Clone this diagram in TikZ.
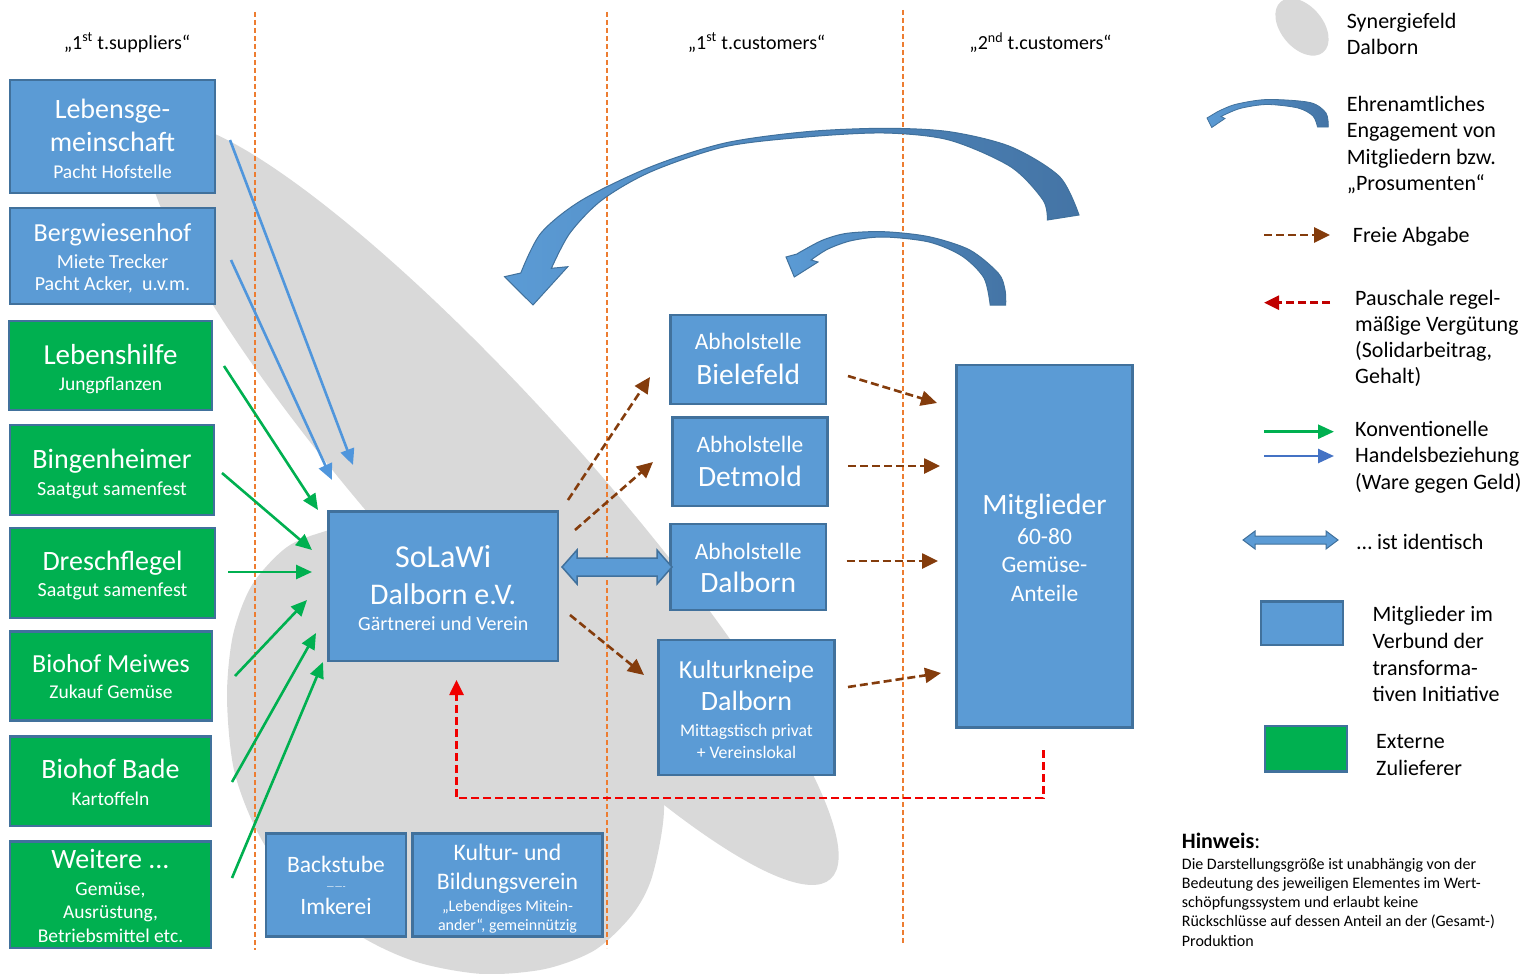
\documentclass[tikz,border=0pt]{standalone}
\usepackage{fontspec}
\setmainfont{Carlito}
\usetikzlibrary{arrows.meta}
\definecolor{boxblue}{RGB}{91,155,213}
\definecolor{boxborder}{RGB}{65,113,156}
\definecolor{boxgreen}{RGB}{0,176,80}
\definecolor{synergy}{RGB}{217,217,217}
\definecolor{guide}{RGB}{237,125,49}
\definecolor{freebrown}{RGB}{132,60,12}
\definecolor{payred}{RGB}{240,0,0}
\definecolor{legred}{RGB}{192,0,0}
\definecolor{tradeblue}{RGB}{80,150,220}
\definecolor{legblue}{RGB}{68,114,196}
\definecolor{arcdark}{RGB}{68,116,165}
\begin{document}
\begin{tikzpicture}[x=1pt,y=-1pt,
  bx/.style 2 args={draw=boxborder,line width=2.5pt,inner sep=0pt,minimum width=#1,minimum height=#2},
  wt/.style={text=white,inner sep=0pt,anchor=base},
  bt/.style={text=black,inner sep=0pt,anchor=base west},
  hd/.style={text=black,inner sep=0pt,anchor=base},
  fs/.style={font=\fontsize{#1pt}{#1pt}\selectfont},
  guideline/.style={guide,line width=1.4pt,dash pattern=on 5pt off 3pt},
  tradeg/.style={boxgreen,line width=2.6pt,-{Triangle[length=16pt,width=14pt]}},
  tradeb/.style={tradeblue,line width=2.6pt,-{Triangle[length=16pt,width=14pt]}},
  free/.style={freebrown,line width=2.6pt,dash pattern=on 8pt off 4pt,-{Triangle[length=16pt,width=15pt]}},
  pay/.style={payred,line width=2.6pt,dash pattern=on 8pt off 4pt,-{Triangle[length=15pt,width=14pt]}},
  blockarrow/.style={draw=boxborder,line width=1.5pt,fill=boxblue},
  curved/.style={draw=boxborder,line width=1pt,left color=boxblue,right color=arcdark}
]
\useasboundingbox (0,0) rectangle (1527,974);
% Synergiefeld
\fill[synergy,rotate around={-48:(492.6,503.7)}] (492.6,503.7) ellipse [x radius=505,y radius=100];
\fill[synergy] plot[smooth cycle] coordinates {(420,505) (329,530) (287,547) (252,585) (233,635) (227,697) (234,770) (258,833) (300,895) (367,940) (420,963) (483,974) (545,969) (595,950) (632,915) (652,877) (664,810) (655,740) (620,640) (540,540)};
% guide lines
\draw[guideline] (255,12) -- (255,950);
\draw[guideline] (607,12) -- (607,948);
\draw[guideline] (903,10) -- (903,945);
% headers
\node[hd,fs=20] (h1) at (127,49.3) {„1\textsuperscript{st} t.suppliers“};
\node[hd,fs=20] (h2) at (756.5,49.3) {„1\textsuperscript{st} t.customers“};
\node[hd,fs=20] (h3) at (1040.5,50) {„2\textsuperscript{nd} t.customers“};
% left column
\node[bx={205pt}{113pt},fill=boxblue] (leb) at (112.5,136.5) {};
\node[wt,fs=28] (leb1) at (112.5,118) {Lebensge-};
\node[wt,fs=28] (leb2) at (112.5,151.5) {meinschaft};
\node[wt,fs=19.5] (leb3) at (112.5,178) {Pacht Hofstelle};
\node[bx={205pt}{96pt},fill=boxblue] (berg) at (112.5,256) {};
\node[wt,fs=26] (berg1) at (112.5,241) {Bergwiesenhof};
\node[wt,fs=20] (berg2) at (112.5,268) {Miete Trecker};
\node[wt,fs=20] (berg3) at (112.5,290) {Pacht Acker,\ \ u.v.m.};
\node[bx={203pt}{89pt},fill=boxgreen] (lhilfe) at (110.5,365.5) {};
\node[wt,fs=29] (lhilfe1) at (110.5,364) {Lebenshilfe};
\node[wt,fs=19.5] (lhilfe2) at (110.5,390) {Jungpflanzen};
\node[bx={204pt}{90pt},fill=boxgreen] (bingen) at (112,470) {};
\node[wt,fs=28] (bingen1) at (112,468.3) {Bingenheimer};
\node[wt,fs=20] (bingen2) at (112,495) {Saatgut samenfest};
\node[bx={205pt}{90pt},fill=boxgreen] (dresch) at (112.5,573) {};
\node[wt,fs=28] (dresch1) at (112.5,570) {Dreschflegel};
\node[wt,fs=20] (dresch2) at (112.5,596.7) {Saatgut samenfest};
\node[bx={202pt}{89pt},fill=boxgreen] (meiwes) at (111,676) {};
\node[wt,fs=26] (meiwes1) at (111,672.7) {Biohof Meiwes};
\node[wt,fs=19.5] (meiwes2) at (111,698.3) {Zukauf Gemüse};
\node[bx={201pt}{89.5pt},fill=boxgreen] (bade) at (110.5,781.25) {};
\node[wt,fs=28] (bade1) at (110.5,778.3) {Biohof Bade};
\node[wt,fs=19.5] (bade2) at (110.5,805) {Kartoffeln};
\node[bx={201pt}{106.5pt},fill=boxgreen] (weitere) at (110.5,894.75) {};
\node[wt,fs=28] (weitere1) at (110.5,868.3) {Weitere ...};
\node[wt,fs=19.5] (weitere2) at (110.5,895) {Gemüse,};
\node[wt,fs=19.5] (weitere3) at (110.5,918.3) {Ausrüstung,};
\node[wt,fs=19.5] (weitere4) at (110.5,942.7) {Betriebsmittel etc.};
% center
\node[bx={229.5pt}{149.5pt},fill=boxblue] (solawi) at (443.25,586.25) {};
\node[wt,fs=32] (solawi1) at (443.25,567.3) {SoLaWi};
\node[wt,fs=30] (solawi2) at (443.25,604) {Dalborn e.V.};
\node[wt,fs=20] (solawi3) at (443.25,630) {Gärtnerei und Verein};
\node[bx={155.5pt}{89pt},fill=boxblue] (biel) at (748.25,359.5) {};
\node[wt,fs=23.5] (biel1) at (748.25,349.3) {Abholstelle};
\node[wt,fs=29.5] (biel2) at (748.25,384) {Bielefeld};
\node[bx={155pt}{88.5pt},fill=boxblue] (detm) at (750,461.75) {};
\node[wt,fs=23.5] (detm1) at (750,452.3) {Abholstelle};
\node[wt,fs=29.5] (detm2) at (750,486.7) {Detmold};
\node[bx={155.5pt}{86pt},fill=boxblue] (dalb) at (748.25,567) {};
\node[wt,fs=23.5] (dalb1) at (748.25,559) {Abholstelle};
\node[wt,fs=29.5] (dalb2) at (748.25,592.3) {Dalborn};
\node[bx={176pt}{135pt},fill=boxblue] (kneipe) at (746.5,707.5) {};
\node[wt,fs=26] (kneipe1) at (746.5,678.3) {Kulturkneipe};
\node[wt,fs=28] (kneipe2) at (746.5,710.7) {Dalborn};
\node[wt,fs=17.7] (kneipe3) at (746.5,736) {Mittagstisch privat};
\node[wt,fs=17.7] (kneipe4) at (746.5,758.3) {+ Vereinslokal};
\node[bx={176pt}{362.5pt},fill=boxblue] (mitgl) at (1044.5,546.25) {};
\node[wt,fs=29.5] (mitgl1) at (1044.5,514) {Mitglieder};
\node[wt,fs=23.5] (mitgl2) at (1044.5,544) {60-80};
\node[wt,fs=23.5] (mitgl3) at (1044.5,572.7) {Gemüse-};
\node[wt,fs=23.5] (mitgl4) at (1044.5,601.7) {Anteile};
\node[bx={140pt}{103pt},fill=boxblue] (back) at (336,885) {};
\node[wt,fs=23.5] (back1) at (336,872.7) {Backstube};
\node[wt,fs=9] (back2) at (336,889.5) {-------};
\node[wt,fs=23.5] (back3) at (336,914.3) {Imkerei};
\node[bx={190pt}{103pt},fill=boxblue] (kultur) at (507.5,885) {};
\node[wt,fs=23.7] (kultur1) at (507.5,860) {Kultur- und};
\node[wt,fs=23.7] (kultur2) at (507.5,889.3) {Bildungsverein};
\node[wt,fs=16] (kultur3) at (507.5,911) {„Lebendiges Mitein-};
\node[wt,fs=16] (kultur4) at (507.5,930) {ander“, gemeinnützig};
% trade arrows
\coordinate (b1s) at (230,140); \coordinate (b1e) at (353,465);
\coordinate (b2s) at (231,260); \coordinate (b2e) at (332,480);
\draw[tradeb] (b1s) -- (b1e);
\draw[tradeb] (b2s) -- (b2e);
\coordinate (g1s) at (224,366); \coordinate (g1e) at (318,510);
\coordinate (g2s) at (222,473); \coordinate (g2e) at (312,550);
\coordinate (g3s) at (228,572); \coordinate (g3e) at (312,572);
\coordinate (g4s) at (235,676); \coordinate (g4e) at (307,600);
\coordinate (g5s) at (232,782); \coordinate (g5e) at (316,633);
\coordinate (g6s) at (232,878); \coordinate (g6e) at (323,662);
\foreach \i in {1,...,6} {\draw[tradeg] (g\i s) -- (g\i e);}
% free distribution
\coordinate (f1s) at (568,500); \coordinate (f1e) at (650,377);
\coordinate (f2s) at (575,530); \coordinate (f2e) at (653,462);
\coordinate (f3s) at (570,615); \coordinate (f3e) at (644,675);
\coordinate (f4s) at (848,376); \coordinate (f4e) at (937,403);
\coordinate (f5s) at (848,466); \coordinate (f5e) at (940,466);
\coordinate (f6s) at (846.7,561); \coordinate (f6e) at (938,561);
\coordinate (f7s) at (848,687); \coordinate (f7e) at (941,673);
\foreach \i in {1,...,7} {\draw[free] (f\i s) -- (f\i e);}
% payment
\coordinate (p1) at (1043.3,750); \coordinate (p2) at (456.5,798); \coordinate (p3) at (456.5,680);
\draw[pay] (p1) |- (p2) -- (p3);
% identity double arrow
\draw[blockarrow] (562,567) -- (577,550) -- (577,558) -- (657,558) -- (657,550) -- (672,567) -- (657,584) -- (657,576) -- (577,576) -- (577,584) -- cycle;
% curved arrows
\path[curved] plot[smooth] coordinates {(1079,215) (1059.6,176.7) (1010.6,146.7) (949.4,131.7) (884,128.3) (806.5,131.7) (725,143) (651,166.7) (582,200) (541,233) (520.8,273)}
  -- (504.5,276.7) -- (533,305) -- (567.8,266.7) -- (551.4,268.3)
  -- plot[smooth] coordinates {(551.4,268.3) (570,233) (602,200) (651,171.7) (725,146.7) (806,137) (884,133) (949,140) (1010.6,166.7) (1043,200) (1047.3,220)} -- cycle;
\path[curved] plot[smooth] coordinates {(1005.7,305) (1005,290) (998.4,273.3) (969.8,250) (929,236.7) (884,231.7) (847,233.3) (823,240) (802,251) (797,254)}
  -- (786,257) -- (794.3,277) -- (818,262) -- (811,260)
  -- plot[smooth] coordinates {(811,260) (828,249) (852,240.5) (884,237) (929,242) (962,256) (984,278) (990.2,305)} -- cycle;
% legend
\fill[synergy,rotate around={-50:(1302,27)}] (1302,27) ellipse [x radius=33,y radius=21];
\node[bt,fs=22] (l1a) at (1346.7,28.3) {Synergiefeld};
\node[bt,fs=22] (l1b) at (1346.7,55) {Dalborn};
\path[curved,line width=0.8pt] plot[smooth] coordinates {(1328.3,127) (1326,113) (1310,102.5) (1267,99.5) (1235,104.5) (1217,112)}
  -- (1207,118) -- (1211.7,127.5) -- (1225,118.5) -- (1221,116.5)
  -- plot[smooth] coordinates {(1221,116.5) (1240,108.5) (1267,104.5) (1298,108) (1313,116) (1317.5,127)} -- cycle;
\node[bt,fs=22] (l2a) at (1346.7,111) {Ehrenamtliches};
\node[bt,fs=22] (l2b) at (1346.7,137.7) {Engagement von};
\node[bt,fs=22] (l2c) at (1346.7,164.3) {Mitgliedern bzw.};
\node[bt,fs=22] (l2d) at (1346.7,190.7) {„Prosumenten“};
\coordinate (lf1) at (1264,235); \coordinate (lf2) at (1330,235);
\draw[free] (lf1) -- (lf2);
\node[bt,fs=22] (l3) at (1352.7,242.3) {Freie Abgabe};
\coordinate (lp1) at (1330,302.7); \coordinate (lp2) at (1264,302.7);
\draw[pay,legred] (lp1) -- (lp2);
\node[bt,fs=22] (l4a) at (1355,305) {Pauschale regel-};
\node[bt,fs=22] (l4b) at (1355,331.5) {mäßige Vergütung};
\node[bt,fs=22] (l4c) at (1355,357.5) {(Solidarbeitrag,};
\node[bt,fs=22] (l4d) at (1355,383.5) {Gehalt)};
\coordinate (lg1) at (1264,431.7); \coordinate (lg2) at (1334,431.7);
\draw[tradeg] (lg1) -- (lg2);
\coordinate (lb1) at (1264,456); \coordinate (lb2) at (1334,456);
\draw[tradeb,legblue] (lb1) -- (lb2);
\node[bt,fs=22] (l5a) at (1355,436.7) {Konventionelle};
\node[bt,fs=22] (l5b) at (1355,462.7) {Handelsbeziehung};
\node[bt,fs=22] (l5c) at (1355,489) {(Ware gegen Geld)};
\draw[blockarrow,line width=1pt] (1243,540) -- (1255,531) -- (1255,536) -- (1326,536) -- (1326,531) -- (1338,540) -- (1326,549) -- (1326,544) -- (1255,544) -- (1255,549) -- cycle;
\node[bt,fs=22] (l6) at (1356.7,549) {… ist identisch};
\node[bx={82pt}{43.5pt},fill=boxblue] (lbox1) at (1302,623.25) {};
\node[bt,fs=22] (l7a) at (1372.3,621.7) {Mitglieder im};
\node[bt,fs=22] (l7b) at (1372.3,648.3) {Verbund der};
\node[bt,fs=22] (l7c) at (1372.3,675) {transforma-};
\node[bt,fs=22] (l7d) at (1372.3,701.3) {tiven Initiative};
\node[bx={82pt}{45.5pt},fill=boxgreen] (lbox2) at (1306,748.75) {};
\node[bt,fs=22] (l8a) at (1376,748.3) {Externe};
\node[bt,fs=22] (l8b) at (1376,775) {Zulieferer};
\node[bt,fs=22] (hin) at (1181.7,848.3) {\textbf{Hinweis}:};
\node[bt,fs=16] (hin1) at (1181.7,869.3) {Die Darstellungsgröße ist unabhängig von der};
\node[bt,fs=16] (hin2) at (1181.7,888.3) {Bedeutung des jeweiligen Elementes im Wert-};
\node[bt,fs=16] (hin3) at (1181.7,907.7) {schöpfungssystem und erlaubt keine};
\node[bt,fs=16] (hin4) at (1181.7,926.7) {Rückschlüsse auf dessen Anteil an der (Gesamt-)};
\node[bt,fs=16] (hin5) at (1181.7,946) {Produktion};
\end{tikzpicture}
\end{document}
